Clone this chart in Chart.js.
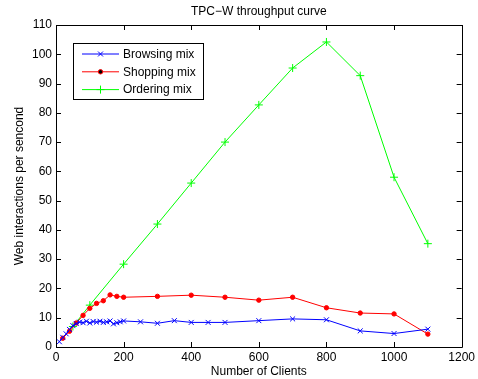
<!DOCTYPE html>
<html lang="en">
<head>
<meta charset="UTF-8">
<title>TPC-W throughput curve</title>
<style>
  html, body { margin: 0; padding: 0; background: #fff; }
  #wrap { width: 478px; height: 379px; }
</style>
</head>
<body>
<div id="wrap"><canvas id="grafico"></canvas></div>
<script src="https://cdn.jsdelivr.net/npm/chart.js"></script>
<script>
// values
const browsingClients = [10, 20, 30, 40, 50, 60, 70, 80, 90, 100, 110, 120, 130, 140, 150, 160, 170, 180, 190, 200,
                         250, 300, 350, 400, 450, 500, 600, 700, 800, 900, 1000, 1100];
const browsingValues  = [1.8, 3.3, 4.5, 6, 7.3, 8, 8.5, 8.3, 8.8, 8.2, 8.7, 8.5, 8.8, 8.4, 8.6, 8.9, 7.9, 8.3, 8.6, 8.9,
                         8.6, 8.1, 9, 8.4, 8.4, 8.4, 9, 9.6, 9.3, 5.5, 4.6, 6.1];

const shoppingClients = [20, 40, 60, 80, 100, 120, 140, 160, 180, 200, 300, 400, 500, 600, 700, 800, 900, 1000, 1100];
const shoppingValues  = [3, 5.4, 8.2, 10.8, 13.2, 14.9, 15.8, 17.8, 17.3, 17, 17.3, 17.7, 17, 16, 17, 13.4, 11.6, 11.3, 4.4];

const orderingClients = [50, 100, 200, 300, 400, 500, 600, 700, 800, 900, 1000, 1100];
const orderingValues  = [7, 14.3, 28.3, 42, 56, 70, 82.7, 95.3, 104.2, 92.7, 58, 35.3];

const seriesNames = ['Browsing mix', 'Shopping mix', 'Ordering mix'];
const xTicks = [0, 200, 400, 600, 800, 1000, 1200];
const yTicks = [0, 10, 20, 30, 40, 50, 60, 70, 80, 90, 100, 110];

const fonte = '"Liberation Sans", Arial, sans-serif';

function pares(xs, ys) {
  return xs.map((x, i) => ({ x: x, y: ys[i] }));
}

// matlab style box, inward ticks, title and legend
const estiloMatlab = {
  id: 'estiloMatlab',
  afterDatasetsDraw(chart) {
    const c = chart.ctx;
    const a = chart.chartArea;
    const sx = chart.scales.x, sy = chart.scales.y;
    c.save();
    c.strokeStyle = '#000';
    c.lineWidth = 1;
    c.beginPath();
    c.rect(Math.round(a.left) + 0.5, Math.round(a.top) + 0.5,
           Math.round(a.right - a.left), Math.round(a.bottom - a.top));
    xTicks.forEach(v => {
      const px = Math.round(sx.getPixelForValue(v)) + 0.5;
      c.moveTo(px, a.bottom); c.lineTo(px, a.bottom - 5);
      c.moveTo(px, a.top); c.lineTo(px, a.top + 5);
    });
    yTicks.forEach(v => {
      const py = Math.round(sy.getPixelForValue(v)) + 0.5;
      c.moveTo(a.left, py); c.lineTo(a.left + 5, py);
      c.moveTo(a.right, py); c.lineTo(a.right - 5, py);
    });
    c.stroke();

    // title
    c.fillStyle = '#000';
    c.font = '12px ' + fonte;
    c.textAlign = 'center';
    c.textBaseline = 'middle';
    c.fillText('TPC\u2212W throughput curve', (a.left + a.right) / 2, 12);

    // legend
    const lx = a.left + 17, ly = a.top + 18;
    c.fillStyle = '#fff';
    c.fillRect(lx, ly, 130, 56);
    c.strokeStyle = '#000';
    c.strokeRect(lx + 0.5, ly + 0.5, 130, 56);
    chart.data.datasets.forEach((ds, i) => {
      const y = ly + 11 + i * 17.8;
      c.strokeStyle = ds.borderColor;
      c.lineWidth = 1;
      c.beginPath();
      c.moveTo(lx + 9, y); c.lineTo(lx + 46, y);
      c.stroke();
      Chart.helpers.drawPoint(c, {
        pointStyle: ds.pointStyle, radius: ds.pointRadius, borderWidth: 1, rotation: 0
      }, lx + 27.5, y);
      c.fillStyle = '#000';
      c.textAlign = 'left';
      c.fillText(ds.label, lx + 50, y + 0.5);
    });
    c.restore();
  }
};

const ctx = document.getElementById('grafico');

function serie(nome, dados, cor, estilo, raio) {
  return {
    label: nome,
    data: dados,
    borderColor: cor,
    backgroundColor: cor,
    borderWidth: 1,
    pointStyle: estilo,
    pointRadius: raio,
    pointBorderWidth: 1,
    pointHoverRadius: raio,
    tension: 0
  };
}

const grafico = new Chart(ctx, {
  type: 'line',
  data: {
    datasets: [
      serie(seriesNames[0], pares(browsingClients, browsingValues), '#0000ff', 'crossRot', 3.5),
      serie(seriesNames[1], pares(shoppingClients, shoppingValues), '#ff0000', 'circle', 2.2),
      serie(seriesNames[2], pares(orderingClients, orderingValues), '#00ff00', 'cross', 4)
    ]
  },
  options: {
    responsive: true,
    maintainAspectRatio: false,
    animation: false,
    layout: { padding: { left: 0, right: 16, top: 25, bottom: 0 } },
    plugins: {
      legend: { display: false },
      title: { display: false },
      tooltip: { enabled: false }
    },
    scales: {
      x: {
        type: 'linear',
        min: 0, max: 1200,
        afterBuildTicks: s => { s.ticks = xTicks.map(v => ({ value: v })); },
        afterFit: s => { s.height = 32; },
        grid: { display: false, drawTicks: false },
        border: { display: false },
        ticks: { color: '#000', font: { family: fonte, size: 12 }, padding: 3, maxRotation: 0,
                 callback: v => String(v) },
        title: { display: true, text: 'Number of Clients', color: '#000',
                 font: { family: fonte, size: 12 }, padding: { top: 0, bottom: 0 } }
      },
      y: {
        type: 'linear',
        min: 0, max: 110,
        afterBuildTicks: s => { s.ticks = yTicks.map(v => ({ value: v })); },
        afterFit: s => { s.width = 56; },
        grid: { display: false, drawTicks: false },
        border: { display: false },
        ticks: { color: '#000', font: { family: fonte, size: 12 }, padding: 4,
                 callback: v => String(v) },
        title: { display: true, text: 'Web interactions per sencond', color: '#000',
                 font: { family: fonte, size: 12 }, padding: { top: 12, bottom: 0 } }
      }
    }
  },
  plugins: [estiloMatlab]
});
</script>
</body>
</html>
